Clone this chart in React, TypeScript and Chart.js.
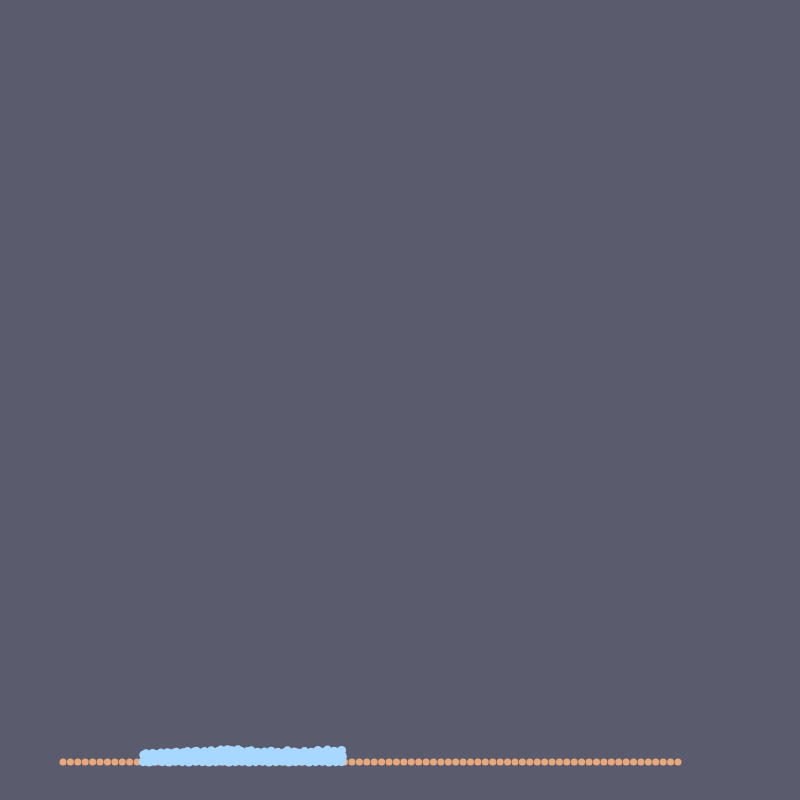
import { useEffect, useRef } from "react"
import { Chart, registerables } from "chart.js"

Chart.register(...registerables)

// baseline series: one reading per step, all flat
const orangeValues = [
  0, 0, 0, 0, 0, 0, 0, 0, 0, 0, 0, 0, 0, 0, 0, 0, 0, 0, 0, 0, 0,
  0, 0, 0, 0, 0, 0, 0, 0, 0, 0, 0, 0, 0, 0, 0, 0, 0, 0, 0, 0, 0,
  0, 0, 0, 0, 0, 0, 0, 0, 0, 0, 0, 0, 0, 0, 0, 0, 0, 0, 0, 0, 0,
  0, 0, 0, 0, 0, 0, 0, 0, 0, 0, 0, 0, 0, 0, 0, 0, 0, 0, 0, 0, 0,
]

// dense cluster of small readings
const blueX = [
  10.9, 11.2, 11.7, 12.1, 12.6, 13.2, 13.5, 14.1, 14.4, 15.0, 15.3, 15.9,
  16.2, 16.8, 17.1, 17.7, 18.0, 18.6, 19.1, 19.4, 20.0, 20.3, 20.9, 21.3,
  21.8, 22.2, 22.7, 23.1, 23.6, 24.0, 24.5, 24.9, 25.4, 25.8, 26.3, 26.7,
  27.2, 27.6, 28.1, 28.5, 29.0, 29.4, 29.9, 30.3, 30.8, 31.2, 31.7, 32.1,
  32.6, 33.0, 33.5, 33.9, 34.4, 34.8, 35.3, 35.7, 36.2, 36.6, 37.1, 37.6,
  11.1, 11.9, 12.8, 13.7, 14.6, 15.5, 16.4, 17.3, 18.2, 19.2, 20.1, 21.0,
  21.9, 22.8, 23.7, 24.6, 25.5, 26.4, 27.3, 28.2, 29.1, 30.0, 30.9, 31.8,
  32.7, 33.6, 34.5, 35.4, 36.3, 37.2, 37.7,
  10.8, 11.6, 12.4, 13.4, 14.3, 15.2, 16.1, 17.0, 17.9, 18.8, 19.7, 20.6,
  21.5, 22.4, 23.3, 24.2, 25.1, 26.0, 26.9, 27.8, 28.7, 29.6, 30.5, 31.4,
  32.3, 33.2, 34.1, 35.0, 35.9, 36.8, 37.6,
]
const blueY = [
  1.9, 2.2, 1.8, 2.3, 2.0, 2.4, 2.1, 2.5, 2.2, 2.4, 2.6, 2.0,
  2.5, 2.8, 2.3, 2.7, 2.9, 2.4, 2.8, 2.2, 3.0, 2.6, 2.8, 3.2,
  2.5, 3.3, 3.1, 2.7, 3.3, 2.9, 2.3, 2.8, 3.0, 2.4, 2.6, 2.1,
  2.7, 2.3, 2.9, 2.0, 2.6, 2.2, 2.5, 3.0, 2.1, 2.7, 2.4, 2.2,
  2.8, 2.3, 2.6, 2.0, 3.1, 2.4, 2.7, 3.2, 2.2, 2.9, 2.5, 3.1,
  1.2, 1.4, 1.1, 1.5, 1.3, 1.2, 1.6, 1.4, 1.1, 1.5, 1.3, 1.7,
  1.4, 1.2, 1.6, 1.3, 1.5, 1.1, 1.4, 1.6, 1.2, 1.5, 1.3, 1.4,
  1.1, 1.5, 1.3, 1.6, 1.2, 1.4, 1.5,
  0.1, 0.0, 0.2, 0.1, 0.0, 0.2, 0.1, 0.0, 0.2, 0.1, 0.0, 0.1,
  0.2, 0.0, 0.1, 0.2, 0.0, 0.1, 0.2, 0.0, 0.1, 0.2, 0.0, 0.1,
  0.2, 0.0, 0.1, 0.2, 0.0, 0.1, 0.1,
]

export default function App() {
  const chartRef = useRef<HTMLCanvasElement>(null)

  useEffect(() => {
    document.body.style.background = "#5a5b6c"
    if (!chartRef.current) return
    const ctx = chartRef.current.getContext("2d")
    if (!ctx) return

    const chart = new Chart(ctx, {
      type: "scatter",
      data: {
        datasets: [
          {
            label: "cluster",
            data: blueX.map((x, i) => ({ x, y: blueY[i] })),
            backgroundColor: "#a8d8ff",
            borderWidth: 0,
            pointRadius: 4.5,
            clip: false,
          },
          {
            label: "baseline",
            data: orangeValues.map((v, i) => ({ x: i, y: v })),
            backgroundColor: "#e8a87c",
            borderWidth: 0,
            pointRadius: 3.5,
            clip: false,
          },
        ],
      },
      options: {
        animation: false,
        responsive: true,
        maintainAspectRatio: false,
        layout: {
          padding: { left: 55, right: 114, top: 10, bottom: 30 },
        },
        plugins: {
          legend: { display: false },
          tooltip: { enabled: false },
        },
        scales: {
          x: { type: "linear", display: false, min: 0, max: 83 },
          y: { display: false, min: 0, max: 200 },
        },
      },
    })

    return () => {
      chart.destroy()
    }
  }, [])

  return (
    <div style={{ width: "784px", height: "784px" }}>
      <canvas ref={chartRef} />
    </div>
  )
}
